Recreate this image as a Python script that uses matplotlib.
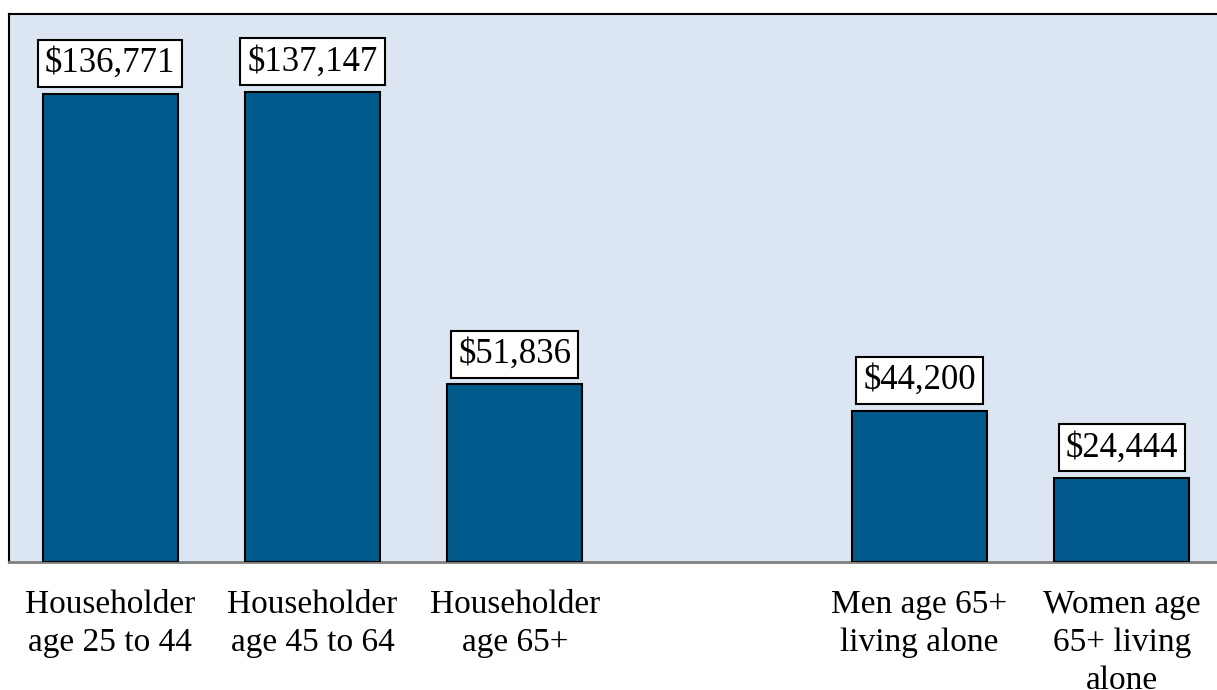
import matplotlib.pyplot as plt
import numpy as np

# Median net worth by household type
categories = [
    "Householder\nage 25 to 44",
    "Householder\nage 45 to 64",
    "Householder\nage 65+",
    "Men age 65+\nliving alone",
    "Women age\n65+ living\nalone",
]
values = [136771, 137147, 51836, 44200, 24444]
# one empty slot between the household groups and the living-alone groups
slots = [0, 1, 2, 4, 5]

bar_color = "#005A8C"
bg_color = "#DCE6F2"

plt.rcParams["font.family"] = ["Liberation Serif", "DejaVu Serif"]

fig = plt.figure(figsize=(12.17, 6.90), dpi=100)
ax = fig.add_axes([9 / 1217, 128 / 690, 1214 / 1217, 548 / 690])
ax.set_facecolor(bg_color)

bars = ax.bar(slots, values, width=0.668, color=bar_color,
              edgecolor="black", linewidth=1.5, zorder=3)

for b, v in zip(bars, values):
    ax.annotate(f"${v:,}", (b.get_x() + b.get_width() / 2, b.get_height()),
                xytext=(0, 10), textcoords="offset points",
                ha="center", va="bottom", fontsize=25,
                bbox=dict(boxstyle="square,pad=0.2", facecolor="white",
                          edgecolor="black", linewidth=1.5),
                zorder=4)

ax.set_xlim(-0.5, 5.5)
ax.set_ylim(0, 160000)
ax.set_xticks(slots)
ax.set_xticklabels(categories, fontsize=24, linespacing=1.32, va="top")
ax.tick_params(axis="x", length=0, pad=20)
ax.set_yticks([])

for side in ["left", "top", "right"]:
    ax.spines[side].set_color("black")
    ax.spines[side].set_linewidth(1.5)
ax.spines["bottom"].set_color("#808080")
ax.spines["bottom"].set_linewidth(2)

fig.savefig("out.png", dpi=100)
